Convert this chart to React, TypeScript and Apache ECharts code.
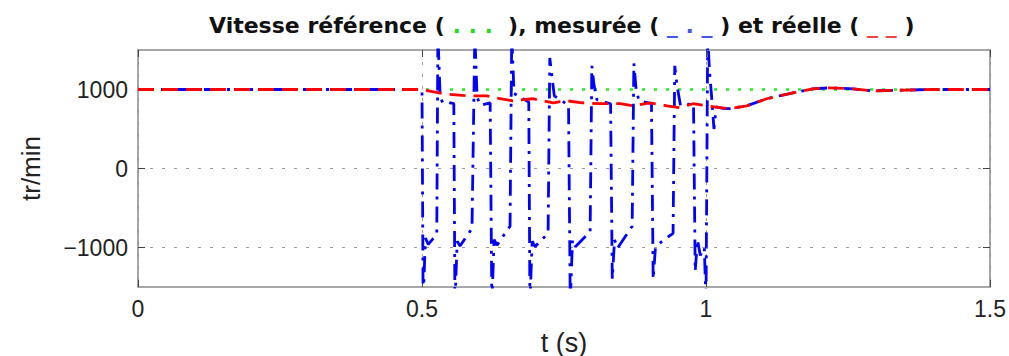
import React, { useEffect, useRef } from "react";
import * as echarts from "echarts";

// Reference speed (tr/min)
const refT = [0, 1.5];
const refV = [1000, 1000];

// Measured speed (tr/min)
const mesT = [
  0, 0.5, 0.502, 0.506, 0.511, 0.518, 0.526, 0.528, 0.532, 0.537, 0.545, 0.556,
  0.558, 0.562, 0.567, 0.588, 0.593, 0.597, 0.603, 0.62,
  0.623, 0.627, 0.632, 0.655, 0.658, 0.662, 0.688,
  0.69, 0.694, 0.699, 0.722, 0.725, 0.729, 0.733, 0.758,
  0.761, 0.765, 0.77, 0.796, 0.799, 0.803, 0.808, 0.832,
  0.835, 0.839, 0.844, 0.87, 0.873, 0.877, 0.882, 0.904,
  0.907, 0.911, 0.916, 0.942, 0.945, 0.949, 0.955, 0.978,
  0.981, 0.985, 0.99, 0.997, 1.0, 1.003, 1.006, 1.01, 1.014, 1.018, 1.03,
  1.042, 1.072, 1.107, 1.153, 1.188, 1.218, 1.259, 1.294, 1.336, 1.4, 1.5,
];
const mesV = [
  1000, 1000, -1700, -880, -960, -900, -830, 1700, 900, 830, 840, 820,
  -1700, -920, -980, -760, 1700, 900, 800, 830,
  -1700, -900, -970, -730, 1700, 950, 840,
  -1700, -920, -990, -820, 1400, 1150, 920, 800,
  -1700, -900, -990, -800, 1300, 1050, 870, 820,
  -1400, -900, -1010, -730, 1330, 1000, 860, 820,
  -1400, -1000, -960, -820, 1300, 1050, 800, 820,
  -1300, -900, -1100, -1000, -1700, 1700, 1250, 900, 500, 780, 760,
  757, 794, 883, 958, 1008, 1021, 1008, 983, 990, 1000, 1000,
];

// Real speed (tr/min)
const realT = [
  0, 0.5, 0.537, 0.579, 0.614, 0.628, 0.66, 0.695, 0.731, 0.755, 0.782, 0.813,
  0.849, 0.871, 0.901, 0.931, 0.954, 0.977, 1.002, 1.025, 1.042, 1.072, 1.107,
  1.153, 1.188, 1.218, 1.259, 1.294, 1.336, 1.4, 1.5,
];
const realV = [
  1000, 1000, 946, 920, 920, 895, 857, 883, 832, 857, 832, 820,
  820, 794, 832, 794, 770, 820, 794, 770, 757, 794, 883,
  958, 1008, 1021, 1008, 983, 990, 1000, 1000,
];

const yTicks = [-1000, 0, 1000];
const xMin = 0;
const xMax = 1.5;
const xStep = 0.5;
const yMin = -1500;
const yMax = 1500;

const zip = (t: number[], v: number[]) => t.map((x, i) => [x, v[i]]);

const labelFont = "'Liberation Sans', Arial, sans-serif";
const titleFont = "'DejaVu Sans', sans-serif";
const gridLine = { show: true, lineStyle: { color: "#9a9a9a", type: [3, 9] as any, width: 1 } };
const frame = { show: true, onZero: false, lineStyle: { color: "#8a8a8a", width: 1.5 } };
const tick = { show: true, inside: true, length: 7, lineStyle: { color: "#444", width: 1 } };

export default function App() {
  const ref = useRef<HTMLDivElement>(null);
  useEffect(() => {
    if (!ref.current) return;
    const chart = echarts.init(ref.current, null, { renderer: "svg" });
    const tStyle = (color: string) => ({
      fontFamily: titleFont,
      fontWeight: "bold",
      fontSize: 22,
      color,
    });
    chart.setOption({
      animation: false,
      backgroundColor: "#ffffff",
      title: {
        left: 204,
        top: 9,
        text:
          "{b|Vitesse référence ( }{g|. . .}{b|  ), mesurée ( }{bl|_ . _}{b| ) et réelle ( }{r|_ _}{b| )}",
        textStyle: {
          rich: {
            b: tStyle("#111"),
            g: tStyle("#22dd22"),
            bl: tStyle("#4455ee"),
            r: tStyle("#ee4444"),
          },
        },
      },
      grid: { left: 138, right: 19, top: 50, bottom: 69, show: false, outerBoundsMode: "none" },
      xAxis: [
        {
          type: "value",
          min: xMin,
          max: xMax,
          interval: xStep,
          name: "t (s)",
          nameLocation: "middle",
          nameGap: 42,
          nameTextStyle: { fontFamily: labelFont, fontSize: 27, color: "#222" },
          axisLine: frame,
          axisTick: tick,
          splitLine: gridLine,
          axisLabel: { fontFamily: labelFont, fontSize: 23, color: "#222", margin: 10 },
        },
        {
          type: "value",
          position: "top",
          min: xMin,
          max: xMax,
          interval: xStep,
          axisLine: frame,
          axisTick: tick,
          splitLine: { show: false },
          axisLabel: { show: false },
        },
      ],
      yAxis: [
        {
          type: "value",
          min: yMin,
          max: yMax,
          name: "tr/min",
          nameLocation: "middle",
          nameGap: 94,
          nameRotate: 90,
          nameTextStyle: { fontFamily: labelFont, fontSize: 26, color: "#222" },
          axisLine: frame,
          axisTick: { ...tick, customValues: yTicks },
          splitLine: gridLine,
          axisLabel: {
            customValues: yTicks,
            fontFamily: labelFont,
            fontSize: 23,
            color: "#222",
            margin: 10,
            formatter: (v: number) => (v < 0 ? "\u2212" + Math.abs(v) : String(v)),
          },
        },
        {
          type: "value",
          position: "right",
          min: yMin,
          max: yMax,
          axisLine: frame,
          axisTick: { ...tick, customValues: yTicks },
          splitLine: { show: false },
          axisLabel: { show: false },
        },
      ],
      series: [
        {
          type: "line",
          name: "référence",
          data: zip(refT, refV),
          showSymbol: false,
          symbol: "none",
          lineStyle: { color: "#22ee22", width: 2.5, type: [3, 9] },
        },
        {
          type: "line",
          name: "mesurée",
          data: zip(mesT, mesV),
          showSymbol: false,
          symbol: "none",
          lineStyle: { color: "#0000ff", width: 2.8, type: [16, 7, 3, 7] },
        },
        {
          type: "line",
          name: "réelle",
          data: zip(realT, realV),
          showSymbol: false,
          symbol: "none",
          lineStyle: { color: "#ff0000", width: 2.8, type: [16, 8] },
        },
      ],
    });
    return () => chart.dispose();
  }, []);
  return (
    <div
      ref={ref}
      style={{ position: "fixed", left: 0, top: 0, width: 1009, height: 356, background: "#fff" }}
    />
  );
}
